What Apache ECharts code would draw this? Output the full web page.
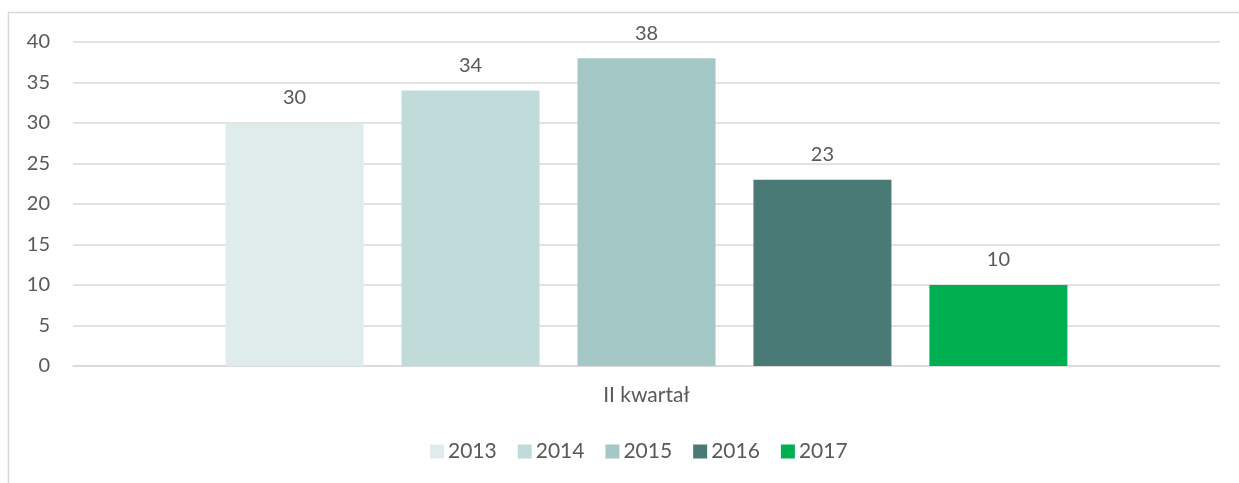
<!DOCTYPE html>
<html>
<head>
<meta charset="utf-8">
<script src="https://cdn.jsdelivr.net/npm/echarts@6/dist/echarts.min.js"></script>
<style>
  html, body { margin: 0; padding: 0; background: #fff; }
  #chart { width: 1239px; height: 483px; }
</style>
</head>
<body>
<div id="chart"></div>
<script>
const categories = ['II kwartał'];
const years = ['2013', '2014', '2015', '2016', '2017'];
const values = [30, 34, 38, 23, 10];
const colors = ['#E0ECEC', '#C1DBDB', '#A3C8C5', '#497A76', '#00B050'];
const yTicks = [0, 5, 10, 15, 20, 25, 30, 35, 40];

const textColor = '#595959';
const font = 'Lato, "Open Sans", sans-serif';

const chart = echarts.init(document.getElementById('chart'));

chart.setOption({
  animation: false,
  graphic: [{
    type: 'rect',
    shape: { x: 8.5, y: 12.5, width: 1300, height: 600 },
    style: { fill: 'none', stroke: '#D9D9D9', lineWidth: 1.5 },
    silent: true
  }],
  grid: { left: 73, right: 19, top: 42, bottom: 117 },
  legend: {
    bottom: 16,
    left: 425,
    itemWidth: 14,
    itemHeight: 14,
    itemGap: 21,
    icon: 'rect',
    textStyle: { color: textColor, fontSize: 21, fontFamily: font, padding: [0, 0, 0, -1] },
    data: years
  },
  xAxis: {
    type: 'category',
    data: categories,
    axisLine: { lineStyle: { color: '#D9D9D9', width: 1.5 } },
    axisTick: { show: false },
    axisLabel: { color: textColor, fontSize: 21, fontFamily: font, margin: 19 }
  },
  yAxis: {
    type: 'value',
    min: yTicks[0],
    max: yTicks[yTicks.length - 1],
    interval: 5,
    axisLine: { show: false },
    axisTick: { show: false },
    splitLine: { lineStyle: { color: '#D9D9D9', width: 1.5 } },
    axisLabel: { color: textColor, fontSize: 20, fontFamily: font, margin: 23 }
  },
  series: years.map((y, i) => ({
    name: y,
    type: 'bar',
    data: [values[i]],
    barWidth: 138,
    barGap: '27.5%',
    itemStyle: { color: colors[i] },
    label: {
      show: true,
      position: 'top',
      distance: 15,
      color: textColor,
      fontSize: 20,
      fontFamily: font
    }
  }))
});
</script>
</body>
</html>
